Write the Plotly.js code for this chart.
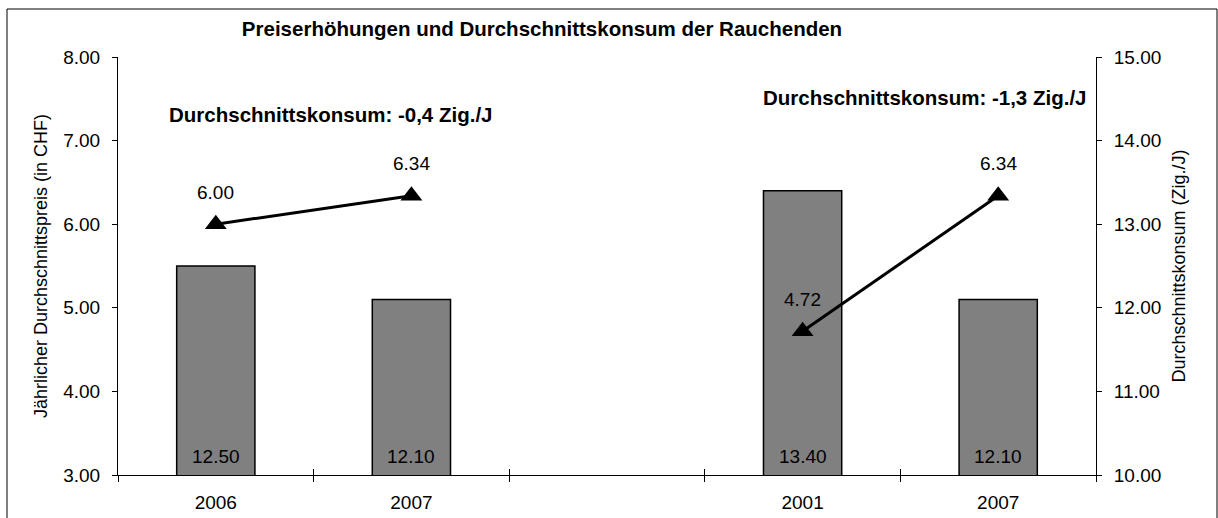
<!DOCTYPE html>
<html>
<head>
<meta charset="utf-8">
<script src="https://cdn.plot.ly/plotly-3.0.1.min.js"></script>
<style>html,body{margin:0;padding:0;background:#fff;}#chart{width:1218px;height:518px;}</style>
</head>
<body>
<div id="chart"></div>
<script>
const categories = ["2006", "2007", "", "2001", "2007"];
const consumption = [12.50, 12.10, null, 13.40, 12.10];
const price = [6.00, 6.34, null, 4.72, 6.34];
const priceTicks = [3, 4, 5, 6, 7, 8];
const consTicks = [10, 11, 12, 13, 14, 15];
const notes = ["Durchschnittskonsum: -0,4 Zig./J", "Durchschnittskonsum: -1,3 Zig./J"];

const idx = categories.map((c, i) => i);
const bounds = [];
for (let i = 0; i <= categories.length; i++) bounds.push(i - 0.5);

const font = "Liberation Sans, Arial, sans-serif";
const black = "#000";

const bars = {
  type: "bar",
  x: idx,
  y: consumption,
  xaxis: "x", yaxis: "y",
  width: 0.4,
  marker: {color: "#808080", line: {color: black, width: 1.5}},
  hoverinfo: "skip"
};

const lines = {
  type: "scatter",
  mode: "lines+markers",
  x: idx,
  y: price,
  xaxis: "x", yaxis: "y2",
  connectgaps: false,
  line: {color: black, width: 3},
  marker: {symbol: "triangle-up", size: 19, color: black},
  hoverinfo: "skip",
  cliponaxis: false
};

const annotations = [];
price.forEach((v, i) => {
  if (v == null) return;
  annotations.push({
    x: i, y: v, xref: "x", yref: "y2", text: v.toFixed(2), showarrow: false,
    yshift: 32, font: {family: font, size: 19, color: black}
  });
});
consumption.forEach((v, i) => {
  if (v == null) return;
  annotations.push({
    x: i, y: consTicks[0], xref: "x", yref: "y", text: v.toFixed(2), showarrow: false,
    yanchor: "bottom", yshift: 6, font: {family: font, size: 19, color: black}
  });
});

annotations.push({
  xref: "paper", yref: "paper", x: (331 - 118) / 978, y: (475 - 115) / 418,
  text: "<b>" + notes[0] + "</b>", showarrow: false, xanchor: "center", yanchor: "middle",
  font: {family: font, size: 20.5, color: black}
});
annotations.push({
  xref: "paper", yref: "paper", x: (925 - 118) / 978, y: (475 - 97) / 418,
  text: "<b>" + notes[1] + "</b>", showarrow: false, xanchor: "center", yanchor: "middle",
  font: {family: font, size: 20.5, color: black}
});

const layout = {
  width: 1218, height: 518,
  margin: {l: 118, r: 122, t: 57, b: 43},
  paper_bgcolor: "#fff", plot_bgcolor: "#fff",
  showlegend: false,
  font: {family: font, color: black},
  title: {
    text: "<b>Preiserhöhungen und Durchschnittskonsum der Rauchenden</b>",
    font: {family: font, size: 20.5, color: black},
    xref: "container", yref: "container", x: 542 / 1218, y: 1 - 29 / 518,
    xanchor: "center", yanchor: "middle"
  },
  xaxis: {
    range: [-0.5, categories.length - 0.5],
    tickmode: "array", tickvals: idx, ticktext: categories,
    ticks: "", showgrid: false, zeroline: false,
    showline: true, linecolor: black, linewidth: 1,
    tickfont: {family: font, size: 19, color: black},
    ticklabelstandoff: 10,
    minor: {tickmode: "array", tickvals: bounds, ticks: "outside", ticklen: 6, tickcolor: black, tickwidth: 1, showgrid: false},
    fixedrange: true
  },
  xaxis2: {
    overlaying: "x", matches: "x", anchor: "y", side: "bottom",
    range: [-0.5, categories.length - 0.5],
    tickmode: "array", tickvals: bounds, ticks: "inside", ticklen: 6, tickcolor: black,
    showticklabels: false, showgrid: false, zeroline: false, showline: false
  },
  yaxis: {
    side: "right", anchor: "x",
    range: [10, 15], tickmode: "array", tickvals: consTicks,
    ticktext: consTicks.map(v => v.toFixed(2)),
    ticks: "outside", ticklen: 5, tickcolor: black,
    showline: true, linecolor: black, linewidth: 1,
    showgrid: false, zeroline: false,
    ticklabelstandoff: 8,
    tickfont: {family: font, size: 19, color: black},
    title: {text: "Durchschnittskonsum (Zig./J)", font: {family: font, size: 18, color: black}, standoff: 12}
  },
  yaxis2: {
    overlaying: "y", side: "left", anchor: "x",
    range: [3, 8], tickmode: "array", tickvals: priceTicks,
    ticktext: priceTicks.map(v => v.toFixed(2)),
    ticks: "outside", ticklen: 5, tickcolor: black,
    showline: true, linecolor: black, linewidth: 1,
    showgrid: false, zeroline: false,
    ticklabelstandoff: 8,
    tickfont: {family: font, size: 19, color: black},
    title: {text: "Jährlicher Durchschnittspreis (in CHF)", font: {family: font, size: 18, color: black}, standoff: 10}
  },
  annotations: annotations,
  shapes: [{
    type: "rect", xref: "paper", yref: "paper",
    x0: (7 - 118) / 978, x1: (1217 - 118) / 978,
    y0: (475 - 525) / 418, y1: (475 - 9) / 418,
    line: {color: black, width: 1}, fillcolor: "rgba(0,0,0,0)", layer: "below"
  }]
};

const dummy = {type: "scatter", x: [0], y: [11], xaxis: "x2", yaxis: "y", mode: "markers", marker: {opacity: 0}, hoverinfo: "skip"};

Plotly.newPlot("chart", [bars, dummy, lines], layout, {staticPlot: true});
</script>
</body>
</html>
